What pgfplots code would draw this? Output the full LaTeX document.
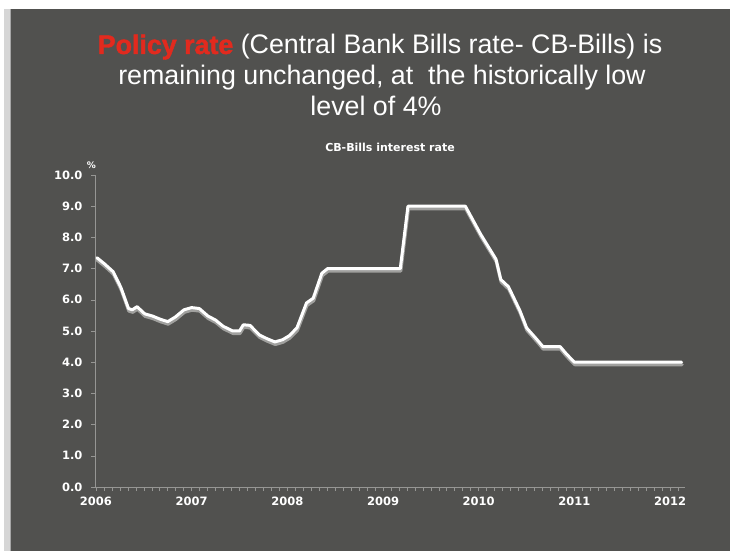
\documentclass[border=0pt]{standalone}
\usepackage{pgfplots}
\pgfplotsset{compat=1.18}
\usepackage{fontspec}
\setmainfont{Liberation Sans}[BoldFont={Liberation Sans Bold}]
\newfontface\heavy{Liberation Sans Bold}[FakeBold=1.6]
\newfontfamily\dvs{DejaVu Sans}[BoldFont={DejaVu Sans Bold}]
\definecolor{panel}{RGB}{81,81,79}
\definecolor{strip}{RGB}{214,214,214}
\definecolor{axgray}{RGB}{150,150,148}
\definecolor{shadow}{RGB}{160,160,158}
\definecolor{polred}{RGB}{226,42,30}
\pgfplotstableread{
x y
2006.01 7.35
2006.09 7.15
2006.18 6.90
2006.26 6.40
2006.34 5.72
2006.38 5.68
2006.43 5.78
2006.51 5.55
2006.59 5.48
2006.67 5.38
2006.75 5.30
2006.83 5.45
2006.92 5.68
2007.00 5.75
2007.08 5.72
2007.17 5.48
2007.25 5.35
2007.33 5.15
2007.43 5.00
2007.50 5.00
2007.54 5.20
2007.61 5.18
2007.71 4.87
2007.79 4.75
2007.87 4.65
2007.95 4.72
2008.02 4.85
2008.10 5.10
2008.15 5.50
2008.20 5.90
2008.27 6.05
2008.36 6.85
2008.42 7.00
2009.18 7.00
2009.26 9.00
2009.86 9.00
2010.02 8.10
2010.18 7.30
2010.23 6.65
2010.31 6.42
2010.43 5.65
2010.50 5.10
2010.61 4.72
2010.67 4.50
2010.85 4.50
2010.92 4.25
2011.00 4.00
2012.12 4.00
}\rates
\begin{document}
\begin{tikzpicture}[x=1pt,y=1pt]
\fill[white] (0,0) rectangle (730,551);
\fill[strip] (4,0) rectangle (11,542);
\fill[panel] (11,0) rectangle (730,542);
\draw[color=gray!70, line width=0.8pt] (10.6,0) -- (10.6,542);
\node[anchor=base, font=\fontsize{26.8}{30}\selectfont, text=white, inner sep=0] at (380,497)
  {\textcolor{polred}{\heavy Policy rate} (Central Bank Bills rate- CB-Bills) is};
\node[anchor=base, font=\fontsize{26.8}{30}\selectfont, text=white, inner sep=0] at (382,466)
  {remaining unchanged, at\ \ the historically low};
\node[anchor=base, font=\fontsize{26.8}{30}\selectfont, text=white, inner sep=0] at (376,435)
  {level of 4\%};
\begin{axis}[
  at={(95pt,64pt)}, anchor=south west,
  scale only axis, width=590pt, height=312pt,
  xmin=2005.99, xmax=2012.155, ymin=0, ymax=10,
  axis x line=bottom, axis y line=left,
  axis line style={axgray, line width=0.6pt, -},
  xtick={2006,2007,...,2012},
  xticklabels={2006,2007,2008,2009,2010,2011,2012},
  minor xtick={2006.0833,2006.1667,...,2012.17},
  ytick={0,1,...,10},
  yticklabels={0.0,1.0,2.0,3.0,4.0,5.0,6.0,7.0,8.0,9.0,10.0},
  tick align=outside,
  major tick length=4pt, minor tick length=4pt,
  every tick/.style={axgray, line width=0.5pt},
  tick label style={text=white, font=\dvs\bfseries\fontsize{11.5}{13}\selectfont},
  xticklabel style={yshift=-2pt},
  yticklabel style={xshift=-5pt},
  title={CB-Bills interest rate},
  title style={at={(0.5,1)}, anchor=center, yshift=22pt, text=white, font=\dvs\bfseries\fontsize{11}{13}\selectfont},
  clip=false,
]
\addplot[shadow, line width=3.4pt, line join=round, line cap=round, yshift=-2.4pt, xshift=0.4pt] table[x=x,y=y] {\rates};
\addplot[white, line width=3.0pt, line join=round, line cap=round] table[x=x,y=y] {\rates};
\node[anchor=south east, text=white, font=\dvs\bfseries\fontsize{9}{10}\selectfont, inner sep=0] at (rel axis cs:0,1) [xshift=1pt, yshift=6pt] {\%};
\end{axis}
\end{tikzpicture}
\end{document}
